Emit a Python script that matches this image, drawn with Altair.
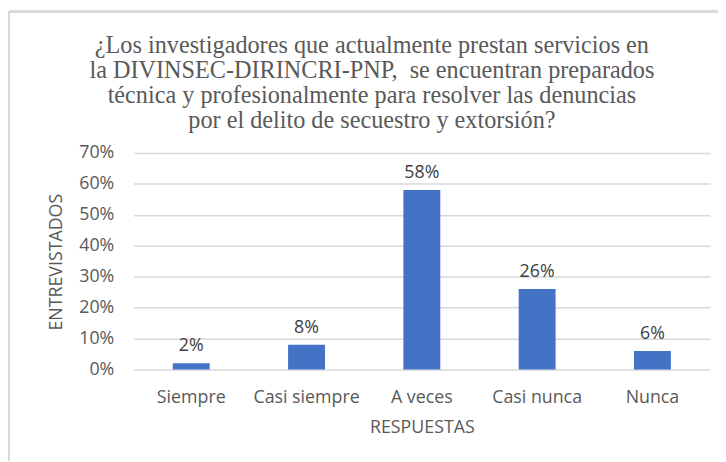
import altair as alt
import pandas as pd

categories = ["Siempre", "Casi siempre", "A veces", "Casi nunca", "Nunca"]
values = [0.02, 0.08, 0.58, 0.26, 0.06]
labels = ["2%", "8%", "58%", "26%", "6%"]
title_lines = [
    "¿Los investigadores que actualmente prestan servicios en",
    "la DIVINSEC-DIRINCRI-PNP,\u00a0 se encuentran preparados",
    "técnica y profesionalmente para resolver las denuncias",
    "por el delito de secuestro y extorsión?",
]

df = pd.DataFrame({"cat": categories, "val": values, "lab": labels})

SANS = "Open Sans"
SERIF = "Liberation Serif, Times New Roman, serif"
GRAY = "#595959"
FS = 18

x = alt.X("cat:N", sort=categories, title="RESPUESTAS",
          scale=alt.Scale(paddingInner=0.68, paddingOuter=0.34),
          axis=alt.Axis(labelAngle=0, ticks=False, domain=False,
                        labelFont=SANS, labelFontSize=FS, labelColor=GRAY,
                        labelPadding=19, titleFont=SANS, titleFontSize=FS,
                        titleColor=GRAY, titleFontWeight="normal", titlePadding=13))
y = alt.Y("val:Q", title="ENTREVISTADOS",
          scale=alt.Scale(domain=[0, 0.7]),
          axis=alt.Axis(format=".0%", values=[0, .1, .2, .3, .4, .5, .6, .7],
                        labelOverlap=False,
                        ticks=False, domain=False, grid=True,
                        gridColor="#d9d9d9", gridWidth=1.5,
                        labelFont=SANS, labelFontSize=FS, labelColor=GRAY,
                        labelPadding=20, titleFont=SANS, titleFontSize=FS,
                        titleColor=GRAY, titleFontWeight="normal",
                        titleX=-78, titleY=110, titleAngle=-90,
                        titleAlign="center", titleBaseline="middle"))

base = alt.Chart(df)
bars = base.mark_bar(color="#4472C4").encode(x=x, y=y)
text = base.mark_text(font=SANS, fontSize=FS, color="#404040",
                      baseline="alphabetic", dy=-12).encode(x=x, y=y, text="lab:N")

border_top = base.mark_rule(color="#d9d9d9", strokeWidth=2).encode(
    x=alt.value(-126), x2=alt.value(600), y=alt.value(-143))
border_left = base.mark_rule(color="#d9d9d9", strokeWidth=2).encode(
    x=alt.value(-126), y=alt.value(-143), y2=alt.value(320))

title = alt.Chart(pd.DataFrame({"t": [0]})).mark_text(
    font=SERIF, fontSize=24.5, color=GRAY, lineHeight=25.5, fontWeight="normal",
    align="center", baseline="alphabetic").encode(
    x=alt.value(241), y=alt.value(-101.5), text=alt.value(title_lines))

chart = alt.layer(bars, text, border_top, border_left, title).properties(
    width=583, height=219,
    padding={"left": 127, "top": 144, "right": 8, "bottom": 90},
    autosize=alt.AutoSizeParams(type="none"),
).configure_view(stroke=None)

chart.save("out.html", embed_options={"renderer": "svg", "actions": False})
